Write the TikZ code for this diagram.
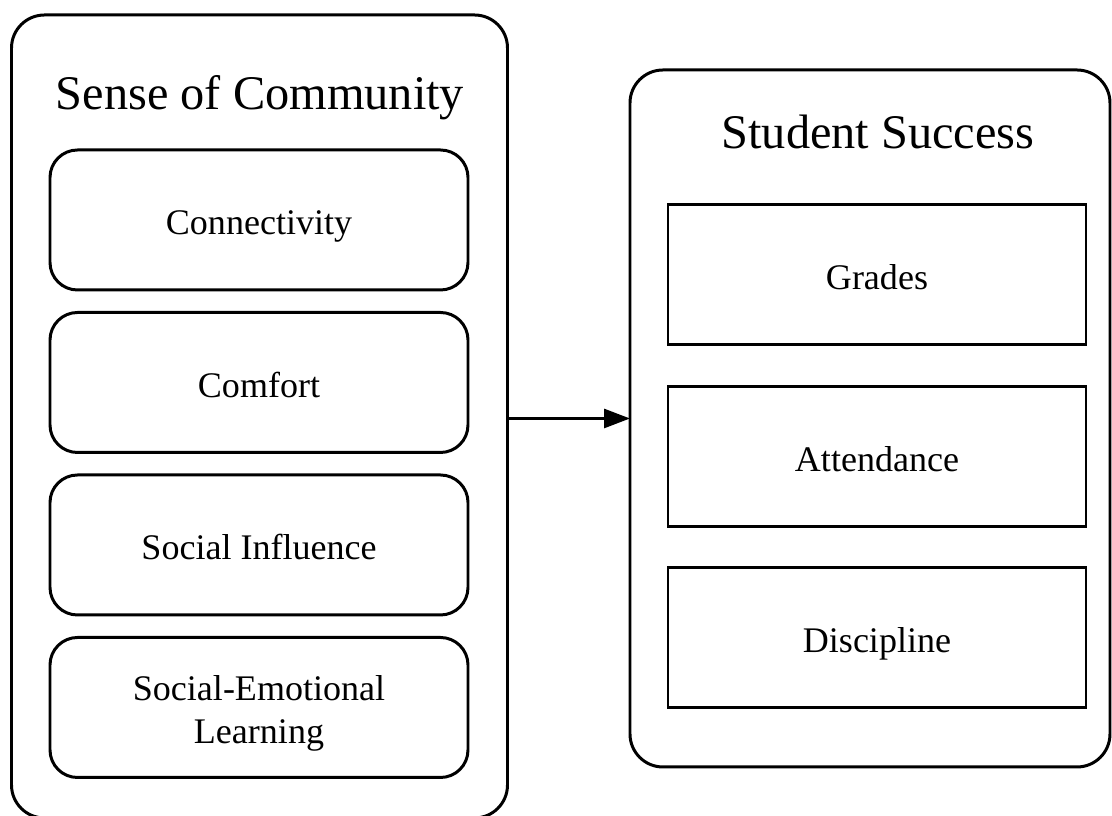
\documentclass[tikz,border=0pt]{standalone}
\usepackage{fontspec}
\setmainfont{Liberation Serif}
\usetikzlibrary{positioning}
\usetikzlibrary{arrows.meta}
\tikzset{
    panel/.style = {rectangle,draw,line width=1.7pt,rounded corners=0.66cm,outer sep=0pt},
    factor/.style = {rectangle,draw,line width=1.7pt,rounded corners=0.55cm,outer sep=0pt,
        minimum width=8.36cm,minimum height=2.8cm,align=center,
        text height=0.6cm,text depth=0pt,
        font=\fontsize{20.5}{24.5}\selectfont},
    outcome/.style = {rectangle,draw,line width=1.7pt,outer sep=0pt,
        minimum width=8.36cm,minimum height=2.8cm,
        text height=0.6cm,text depth=0pt,
        font=\fontsize{20.5}{24.5}\selectfont},
    heading/.style = {anchor=base,font=\fontsize{27.5}{33}\selectfont}}

\begin{document}
\begin{tikzpicture}
        \useasboundingbox (0,0) rectangle (22.24,16.32);
        % left panel and its four factors
        \node[panel,minimum width=9.92cm,minimum height=16.06cm] (soc) at (5.19,7.99) {};
        \node[heading] (soctitle) at (5.2,14.12) {Sense of Community};
        \node[factor] (conn) at (5.18,11.92) {Connectivity};
        \node[factor,below=0.45cm of conn] (comf) {Comfort};
        \node[factor,below=0.45cm of comf] (infl) {Social Influence};
        \node[factor,below=0.45cm of infl,text height=1.44cm] (sel) {Social-Emotional\\Learning};
        % right panel and outcomes
        \node[panel,minimum width=9.6cm,minimum height=13.94cm] (succ) at (17.4,7.95) {};
        \node[heading] (succtitle) at (17.56,13.34) {Student Success};
        \node[outcome] (grad) at (17.54,10.82) {Grades};
        \node[outcome,below=0.83cm of grad] (att) {Attendance};
        \node[outcome,below=0.83cm of att] (disc) {Discipline};
        \draw[line width=1.7pt,-{Triangle[length=0.52cm,width=0.38cm]}]
            (succ.west -| soc.east) -- (succ.west);
\end{tikzpicture}
\end{document}
